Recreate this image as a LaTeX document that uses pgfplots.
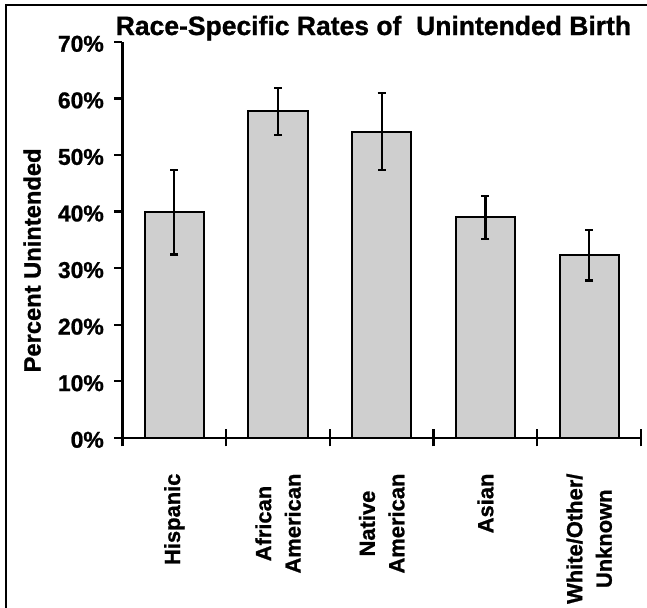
\documentclass[border=0pt]{standalone}
\usepackage{pgfplots}
\pgfplotsset{compat=1.18}
\usepackage{fontspec}
\setmainfont{Liberation Sans}[BoldFont={Liberation Sans Bold}, BoldFeatures={FakeBold=1}]
\definecolor{barfill}{RGB}{207,207,207}

\begin{document}
\begin{tikzpicture}
\useasboundingbox (-122.5bp,-170.2bp) rectangle (524.5bp,437.8bp);
\draw[line width=2.3bp] (-116.3bp,-180bp) -- (-116.3bp,432.8bp) -- (540bp,432.8bp);
\begin{axis}[
    at={(0,0)},
    width=518.5bp, height=396bp, scale only axis,
    xmin=-0.5, xmax=4.5,
    ymin=0, ymax=70,
    axis x line*=bottom, axis y line*=left,
    axis line style={line width=2.3bp, black},
    clip=false,
    /pgf/number format/assume math mode=true,
    ytick={0,10,20,30,40,50,60,70},
    yticklabel={\pgfmathprintnumber{\tick}\%},
    xtick={0,1,2,3,4},
    xticklabels={Hispanic,{African\\American},{Native\\American},Asian,{White/Other/\\Unknown}},
    minor xtick={-0.5,0.5,1.5,2.5,3.5,4.5},
    tick align=outside,
    major tick length=8bp,
    minor tick length=17bp,
    every tick/.style={black, line width=2.3bp},
    every major x tick/.append style={draw=none},
    every minor x tick/.append style={yshift=8.5bp},
    xticklabel shift=27.6bp,
    yticklabel shift=10.5bp,
    xticklabel style={font=\fontsize{22}{29.6}\selectfont\bfseries,
        rotate=90, anchor=east, align=center, inner sep=0pt},
    yticklabel style={font=\fontsize{23}{27}\selectfont\bfseries,
        anchor=east, inner sep=0pt, yshift=-2bp},
    title={Race-Specific Rates of\ \ Unintended Birth},
    every axis title/.style={at={(0.484,1)}, anchor=base, yshift=6.8bp,
        font=\fontsize{26.6}{30}\selectfont\bfseries, inner sep=0pt},
    ylabel={Percent Unintended},
    every axis y label/.style={at={(axis description cs:-0.158,0.448)},
        rotate=90, anchor=base, inner sep=0pt,
        font=\fontsize{23.8}{28}\selectfont\bfseries},
]
\addplot[ybar, bar width=0.57, fill=barfill, draw=black, line width=2bp,
    error bars/.cd, y dir=both, y explicit,
    error bar style={line width=2.2bp, black},
    error mark options={rotate=90, line width=2.2bp, mark size=4bp, black}]
    table[x=x, y=y, y error=e] {
x y e
0 39.9 7.5
1 57.7 4.2
2 54.1 6.8
3 39.0 3.8
4 32.3 4.5
};
\end{axis}
\end{tikzpicture}
\end{document}
